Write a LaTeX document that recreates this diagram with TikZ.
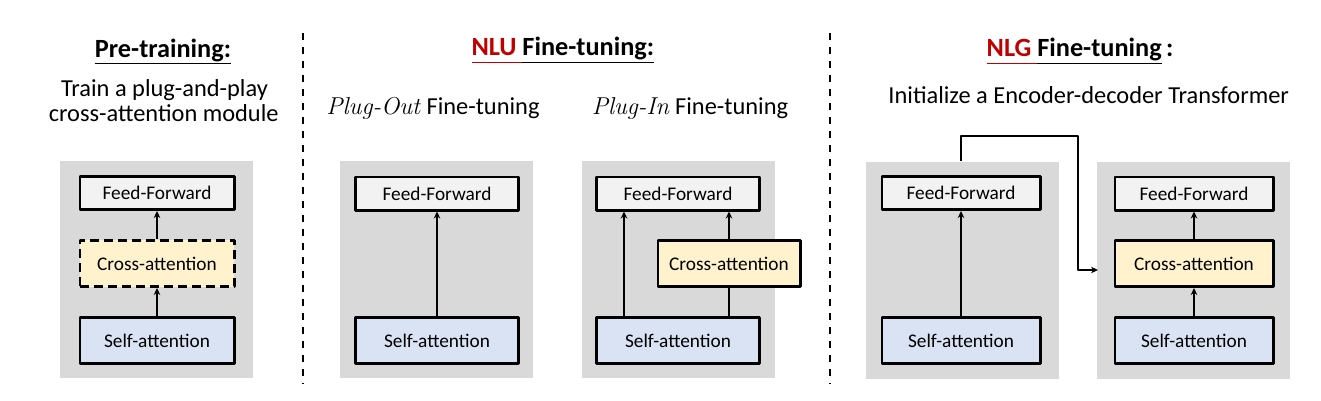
\documentclass[tikz,border=0pt]{standalone}
\usepackage{fontspec}
\setsansfont{Carlito}
\usetikzlibrary{arrows.meta}
\definecolor{bggray}{HTML}{D9D9D9}
\definecolor{ffgray}{HTML}{F2F2F2}
\definecolor{cayellow}{HTML}{FFF2CC}
\definecolor{sablue}{HTML}{DAE3F3}
\definecolor{nlured}{HTML}{C00000}
\newcommand{\titleul}[1]{\underline{#1\vphantom{g}}}
\begin{document}
\begin{tikzpicture}[x=1pt,y=-1pt,font=\sffamily,line join=round,>={Stealth[length=7pt,width=6.5pt]},
	bg/.style={fill=bggray,minimum width=193pt,minimum height=217pt,inner sep=0pt},
	blk/.style={draw,line width=2.6pt,inner sep=0pt,font=\sffamily\fontsize{19.3}{21}\selectfont},
	ff/.style={blk,fill=ffgray,minimum height=33.4pt},
	ca/.style={blk,fill=cayellow,minimum height=46.4pt},
	sa/.style={blk,fill=sablue,minimum height=46.4pt},
	arr/.style={->,line width=1.9pt},
	lnk/.style={line width=1.9pt},
	title/.style={anchor=base,font=\sffamily\bfseries\fontsize{26.3}{28}\selectfont},
	sub/.style={anchor=base,font=\sffamily\fontsize{24.4}{26}\selectfont},
	divider/.style={line width=2pt,dash pattern=on 7pt off 7pt}]
	\useasboundingbox (0,0) rectangle (1321,401);
	% dividers
	\coordinate (d1t) at (303,33);
	\coordinate (d1b) at (303,384);
	\coordinate (d2t) at (830,33);
	\coordinate (d2b) at (830,384);
	\draw[divider] (d1t)--(d1b);
	\draw[divider] (d2t)--(d2b);
	% pre-training
	\node[title] (pt) at (163,57.5) {\titleul{Pre-training:}};
	\node[sub] (ps1) at (164.5,96) {Train a plug-and-play};
	\node[sub] (ps2) at (163.7,121.5) {cross-attention module};
	\node[bg] (pbg) at (156.5,269.5) {};
	\node[ff,minimum width=154.4pt] (pff) at (157,193) {Feed-Forward};
	\node[ca,minimum width=154.4pt,dash pattern=on 9pt off 5pt] (pca) at (157,263.5) {Cross-attention};
	\node[sa,minimum width=154.4pt] (psa) at (157,340.5) {Self-attention};
	\draw[arr] (psa)--(pca);
	\draw[arr] (pca)--(pff);
	% NLU fine-tuning
	\node[title] (ut) at (562.8,56) {{\color{nlured}\titleul{NLU\ }}\titleul{Fine-tuning:}};
	\node[sub] (uos) at (433,114) {\textrm{\itshape Plug-Out} Fine-tuning};
	\node[sub] (uis) at (690,114) {\textrm{\itshape Plug-In} Fine-tuning};
	\node[bg] (obg) at (436.5,269.5) {};
	\node[ff,minimum width=163.4pt] (off) at (437,193.5) {Feed-Forward};
	\node[sa,minimum width=163.4pt] (osa) at (437,340.5) {Self-attention};
	\draw[arr] (osa)--(off);
	\node[bg] (ibg) at (678,269.5) {};
	\node[ff,minimum width=163.4pt] (iff) at (678,193.5) {Feed-Forward};
	\node[ca,minimum width=142.4pt] (ica) at (729,263.5) {Cross-attention};
	\node[sa,minimum width=163.4pt] (isa) at (678,340.5) {Self-attention};
	\draw[arr] ([xshift=-54pt]isa.north)--([xshift=-54pt]iff.south);
	\draw[lnk] (isa.north -| ica)--(ica.south);
	\draw[arr] (ica.north)--(iff.south -| ica);
	% NLG fine-tuning
	\node[title] (gt) at (1080,57) {{\color{nlured}\titleul{NLG\ }}\titleul{Fine-tuning}\,:};
	\node[sub] (gs) at (1088.7,103) {Initialize a Encoder-decoder Transformer};
	\node[bg] (ebg) at (962,270) {};
	\node[ff,minimum width=158.4pt] (eff) at (961,193) {Feed-Forward};
	\node[sa,minimum width=158.4pt] (esa) at (961,340.5) {Self-attention};
	\draw[arr] (esa)--(eff);
	\node[bg] (dbg) at (1193,270) {};
	\node[ff,minimum width=158.4pt] (dff) at (1194,193.5) {Feed-Forward};
	\node[ca,minimum width=158.4pt] (dca) at (1194,263.5) {Cross-attention};
	\node[sa,minimum width=158.4pt] (dsa) at (1194,340.5) {Self-attention};
	\draw[arr] (dsa)--(dca);
	\draw[arr] (dca)--(dff);
	\coordinate (bend) at (1077.7,135.7);
	\coordinate (dcain) at (1098,270);
	\draw[arr] (ebg.north -| eff) |- (bend) |- (dcain);
\end{tikzpicture}
\end{document}
